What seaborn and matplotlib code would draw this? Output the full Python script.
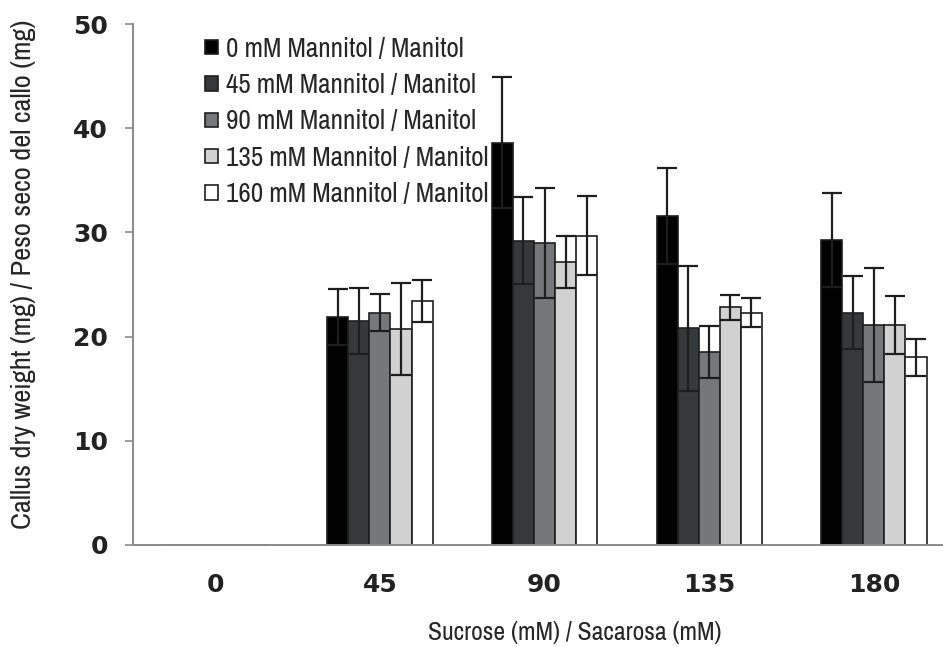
import numpy as np
import pandas as pd
import matplotlib
matplotlib.use('Agg')
import matplotlib.pyplot as plt
import seaborn as sns

# Data (mean callus dry weight, mg, and error)
sucrose = ['0', '45', '90', '135', '180']
mannitol = ['0 mM Mannitol / Manitol', '45 mM Mannitol / Manitol',
            '90 mM Mannitol / Manitol', '135 mM Mannitol / Manitol',
            '160 mM Mannitol / Manitol']

man_0 = [0, 21.9, 38.6, 31.6, 29.3]
man_45 = [0, 21.5, 29.2, 20.8, 22.3]
man_90 = [0, 22.3, 29.0, 18.5, 21.1]
man_135 = [0, 20.7, 27.2, 22.8, 21.1]
man_160 = [0, 23.4, 29.7, 22.3, 18.0]

err_0 = [0, 2.7, 6.3, 4.6, 4.5]
err_45 = [0, 3.2, 4.2, 6.0, 3.5]
err_90 = [0, 1.8, 5.3, 2.5, 5.5]
err_135 = [0, 4.4, 2.5, 1.2, 2.8]
err_160 = [0, 2.0, 3.8, 1.4, 1.8]

colors = ['#000000', '#35393b', '#75787b', '#d0d1d0', '#ffffff']

means = [man_0, man_45, man_90, man_135, man_160]
errs = [err_0, err_45, err_90, err_135, err_160]

rows = []
for lab, m in zip(mannitol, means):
    for s, v in zip(sucrose, m):
        rows.append({'Sucrose': s, 'Mannitol': lab, 'Weight': v})
df = pd.DataFrame(rows)

sns.set_style('white')
narrow = ['Archivo Narrow', 'DejaVu Sans']
plt.rcParams['font.family'] = narrow

fig = plt.figure(figsize=(9.43, 6.47), dpi=100)
ax = fig.add_axes([0.141, 0.1577, 0.859, 0.8052])

sns.barplot(data=df, x='Sucrose', y='Weight', hue='Mannitol',
            order=sucrose, hue_order=mannitol, palette=colors,
            width=0.64, gap=0, errorbar=None, saturation=1,
            edgecolor='#1e1e1e', linewidth=1.2, ax=ax)

# Error bars on top of each bar (skip the empty 0 mM sucrose group)
for cont, e in zip(ax.containers, errs):
    for bar, err in zip(cont, e):
        h = bar.get_height()
        if h <= 0:
            continue
        xc = bar.get_x() + bar.get_width() / 2
        ax.errorbar(xc, h, yerr=err, fmt='none', ecolor='#1e1e1e',
                    elinewidth=1.6, capsize=7.5, capthick=1.6, zorder=3)

ax.set_ylim(0, 50)
ax.set_xlim(-0.5, 4.42)
ax.set_yticks([0, 10, 20, 30, 40, 50])

for side in ['top', 'right']:
    ax.spines[side].set_visible(False)
for side in ['left', 'bottom']:
    ax.spines[side].set_color('#8a8a8a')
    ax.spines[side].set_linewidth(1.4)

ax.tick_params(axis='y', length=6, width=1.2, color='#8a8a8a', pad=12,
               left=True)
ax.tick_params(axis='x', length=0, pad=20)
for t in ax.get_xticklabels() + ax.get_yticklabels():
    t.set_family('DejaVu Sans')
    t.set_fontweight('bold')
    t.set_fontsize(18)
    t.set_color('#222222')

ax.set_xlabel('Sucrose (mM) / Sacarosa (mM)', fontsize=18.5, family=narrow)
ax.set_ylabel('Callus dry weight (mg) / Peso seco del callo (mg)',
              fontsize=20.5, family=narrow)
ax.xaxis.set_label_coords(0.546, -0.145)
ax.yaxis.set_label_coords(-0.12, 0.52)

handles, labels = ax.get_legend_handles_labels()
ax.legend(handles, labels, loc='upper left', bbox_to_anchor=(0.066, 1.012),
          frameon=False, handlelength=0.45, handleheight=0.45,
          handletextpad=0.3, labelspacing=0.42, borderpad=0.2,
          prop={'family': narrow, 'size': 19.5})

fig.savefig('out.png', dpi=100)
